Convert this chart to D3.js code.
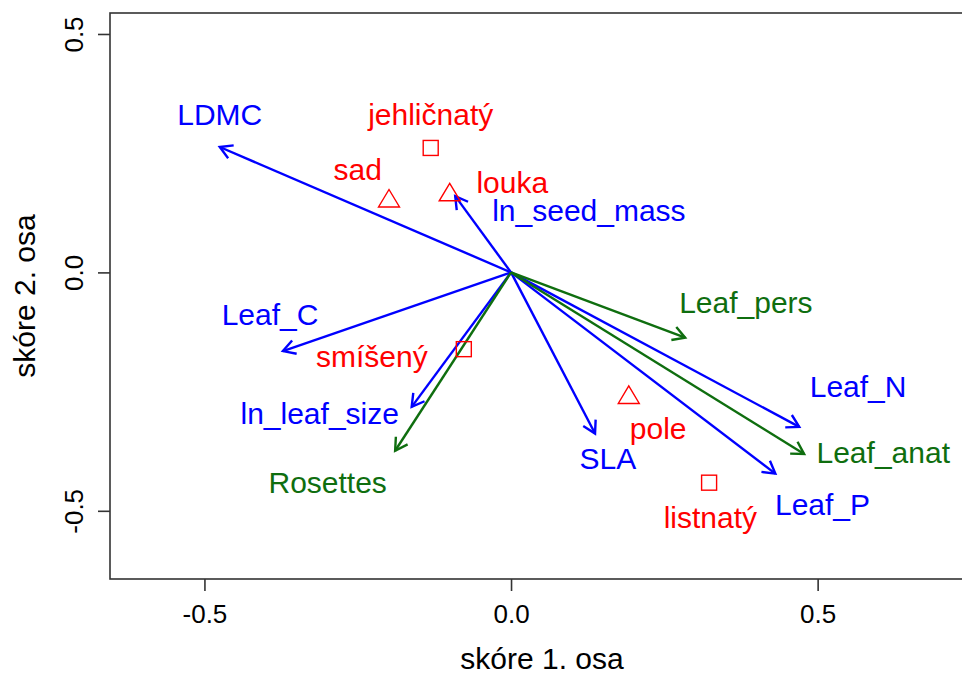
<!DOCTYPE html>
<html><head><meta charset="utf-8">
<script src="https://cdn.jsdelivr.net/npm/d3@7"></script>
<style>body{margin:0;background:#fff}svg{display:block}text{font-family:"Liberation Sans",Arial,sans-serif}</style>
</head><body>
<script>
// Species-trait arrows (blue) and plant-form arrows (green): tips
const traitNames = ["LDMC","ln_seed_mass","Leaf_C","ln_leaf_size","SLA","Leaf_N","Leaf_P"];
const traitX = [-0.475,-0.091,-0.372,-0.162,0.137,0.470,0.431];
const traitY = [0.263,0.160,-0.165,-0.282,-0.338,-0.324,-0.422];
const traitLabX = [-0.475,0.127,-0.393,-0.312,0.158,0.566,0.508];
const traitLabY = [0.331,0.130,-0.088,-0.296,-0.390,-0.239,-0.486];

const formNames = ["Leaf_pers","Leaf_anat","Rosettes"];
const formX = [0.284,0.478,-0.189];
const formY = [-0.137,-0.381,-0.374];
const formLabX = [0.383,0.607,-0.299];
const formLabY = [-0.063,-0.377,-0.440];

// Habitat sites (red)
const siteNames = ["jehličnatý","sad","louka","smíšený","pole","listnatý"];
const siteShape = ["square","triangle","triangle","square","triangle","square"];
const siteX = [-0.131,-0.199,-0.100,-0.077,0.192,0.323];
const siteY = [0.261,0.155,0.168,-0.161,-0.257,-0.441];
const siteLabX = [-0.131,-0.250,0.002,-0.227,0.240,0.325];
const siteLabY = [0.331,0.216,0.189,-0.176,-0.327,-0.514];

const xTicks = [-0.5,0.0,0.5];
const yTicks = [-0.5,0.0,0.5];
const tickLabels = ["-0.5","0.0","0.5"];
const xTitle = "skóre 1. osa", yTitle = "skóre 2. osa";

const W=962,H=675;
const svg=d3.select("body").append("svg").attr("width",W).attr("height",H);
const x=d3.scaleLinear().domain([-0.654,0.755]).range([110,974]);
const y=d3.scaleLinear().domain([-0.643,0.544]).range([579,13]);

const BLUE="#0000ff", GREEN="#0f6e0f", RED="#ff0000", AX="#333";
const fmt=(d)=>tickLabels[xTicks.indexOf(d)];

// box
svg.append("rect").attr("x",x.range()[0]).attr("y",y.range()[1])
  .attr("width",x.range()[1]-x.range()[0]).attr("height",y.range()[0]-y.range()[1])
  .attr("fill","none").attr("stroke",AX).attr("stroke-width",1.6);

// axes
const xa=svg.append("g").attr("transform",`translate(0,${y.range()[0]})`)
  .call(d3.axisBottom(x).tickValues(xTicks).tickFormat(fmt).tickSize(12));
const ya=svg.append("g").attr("transform",`translate(${x.range()[0]},0)`)
  .call(d3.axisLeft(y).tickValues(yTicks).tickFormat(fmt).tickSize(12));
[xa,ya].forEach(g=>{g.select(".domain").remove();
  g.selectAll(".tick line").attr("stroke",AX).attr("stroke-width",1.6);
  g.selectAll(".tick text").attr("fill","#000").style("font-size","26px")
   .style("font-family",'"Liberation Sans",Arial,sans-serif');});
xa.selectAll(".tick text").attr("dy",null).attr("y",44);
ya.selectAll(".tick text").attr("x",0).attr("y",0).attr("dy",null)
  .attr("text-anchor","middle").attr("transform","translate(-27,0) rotate(-90)");

svg.append("text").attr("x",542).attr("y",669).attr("text-anchor","middle")
  .style("font-size","30px").attr("fill","#000").text(xTitle);
svg.append("text").attr("transform","translate(35,296) rotate(-90)").attr("text-anchor","middle")
  .style("font-size","30px").attr("fill","#000").text(yTitle);

// arrows
function arrow(tx,ty,col){
  const x0=x(0),y0=y(0),x1=x(tx),y1=y(ty);
  const a=Math.atan2(y1-y0,x1-x0),L=14,h=Math.PI/6;
  svg.append("line").attr("x1",x0).attr("y1",y0).attr("x2",x1).attr("y2",y1)
    .attr("stroke",col).attr("stroke-width",2.4);
  const p=`M${x1-L*Math.cos(a-h)},${y1-L*Math.sin(a-h)}L${x1},${y1}L${x1-L*Math.cos(a+h)},${y1-L*Math.sin(a+h)}`;
  svg.append("path").attr("d",p).attr("fill","none").attr("stroke",col).attr("stroke-width",2.4);
}
function label(t,lx,ly,col){
  svg.append("text").attr("x",x(lx)).attr("y",y(ly)).attr("dy","0.36em")
    .attr("text-anchor","middle").style("font-size","30px").attr("fill",col).text(t);
}
traitNames.forEach((n,i)=>{arrow(traitX[i],traitY[i],BLUE);});
formNames.forEach((n,i)=>{arrow(formX[i],formY[i],GREEN);});

// sites
siteNames.forEach((n,i)=>{
  const cx=x(siteX[i]),cy=y(siteY[i]);
  if(siteShape[i]==="square"){
    svg.append("rect").attr("x",cx-7.5).attr("y",cy-7.5).attr("width",15).attr("height",15)
      .attr("fill","none").attr("stroke",RED).attr("stroke-width",1.4);
  } else {
    svg.append("path").attr("d",`M${cx},${cy-9}L${cx+10.5},${cy+8.5}L${cx-10.5},${cy+8.5}Z`)
      .attr("fill","none").attr("stroke",RED).attr("stroke-width",1.4);
  }
});

traitNames.forEach((n,i)=>label(n,traitLabX[i],traitLabY[i],BLUE));
formNames.forEach((n,i)=>label(n,formLabX[i],formLabY[i],GREEN));
siteNames.forEach((n,i)=>label(n,siteLabX[i],siteLabY[i],RED));
</script>
</body></html>
